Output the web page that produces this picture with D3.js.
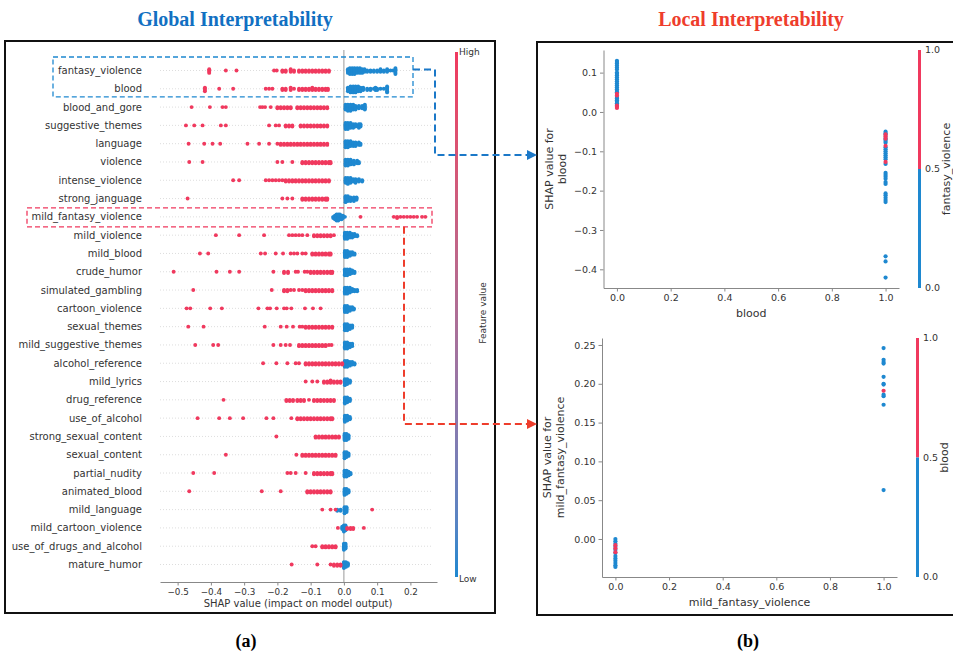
<!DOCTYPE html>
<html>
<head>
<meta charset="utf-8">
<script src="https://cdn.jsdelivr.net/npm/d3@7"></script>
<style>
  body { margin: 0; background: #fff; }
  text { font-family: "DejaVu Sans", sans-serif; }
  .title { font-family: "Liberation Serif", serif; font-weight: bold; }
</style>
</head>
<body>
<script>
// ---------- data ----------
var features = ['fantasy_violence', 'blood', 'blood_and_gore', 'suggestive_themes', 'language', 'violence',
  'intense_violence', 'strong_janguage', 'mild_fantasy_violence', 'mild_violence', 'mild_blood', 'crude_humor',
  'simulated_gambling', 'cartoon_violence', 'sexual_themes', 'mild_suggestive_themes', 'alcohol_reference',
  'mild_lyrics', 'drug_reference', 'use_of_alcohol', 'strong_sexual_content', 'sexual_content', 'partial_nudity',
  'animated_blood', 'mild_language', 'mild_cartoon_violence', 'use_of_drugs_and_alcohol', 'mature_humor'];

// [shap value, number of stacked points] for high feature value (red)
var highPts = [
  [[-0.405,4],[-0.355,1],[-0.323,1],[-0.21,1],[-0.202,1],[-0.185,2],[-0.175,2],[-0.16,3],[-0.15,2],[-0.135,2],[-0.125,2],[-0.115,2],[-0.105,2],[-0.095,2],[-0.085,2],[-0.075,2],[-0.065,2],[-0.055,2],[-0.045,2]],
  [[-0.418,4],[-0.375,1],[-0.333,1],[-0.235,1],[-0.225,1],[-0.215,1],[-0.185,2],[-0.175,2],[-0.16,3],[-0.15,1],[-0.135,2],[-0.125,2],[-0.115,2],[-0.105,2],[-0.095,3],[-0.085,2],[-0.075,2],[-0.065,2],[-0.055,2],[-0.048,2]],
  [[-0.458,1],[-0.403,1],[-0.365,1],[-0.355,1],[-0.252,1],[-0.245,1],[-0.237,1],[-0.22,1],[-0.2,2],[-0.19,2],[-0.18,2],[-0.17,2],[-0.16,2],[-0.14,2],[-0.13,2],[-0.12,2],[-0.11,2],[-0.1,2],[-0.09,2],[-0.08,2],[-0.07,2],[-0.06,2],[-0.05,2]],
  [[-0.475,1],[-0.45,1],[-0.425,1],[-0.37,1],[-0.355,1],[-0.225,1],[-0.205,1],[-0.195,1],[-0.175,2],[-0.165,2],[-0.155,2],[-0.13,2],[-0.12,2],[-0.11,2],[-0.1,2],[-0.09,2],[-0.08,2],[-0.07,2],[-0.06,2],[-0.05,2]],
  [[-0.467,1],[-0.42,1],[-0.395,1],[-0.372,1],[-0.29,1],[-0.255,1],[-0.225,1],[-0.2,1],[-0.19,2],[-0.18,2],[-0.17,2],[-0.16,2],[-0.15,2],[-0.14,2],[-0.13,2],[-0.12,2],[-0.11,2],[-0.1,2],[-0.09,2],[-0.08,2],[-0.07,2],[-0.06,2],[-0.05,2]],
  [[-0.465,1],[-0.425,1],[-0.2,1],[-0.185,1],[-0.155,1],[-0.125,2],[-0.115,2],[-0.105,2],[-0.095,2],[-0.085,2],[-0.075,2],[-0.065,2],[-0.055,2],[-0.045,2],[-0.04,2]],
  [[-0.333,1],[-0.315,1],[-0.235,1],[-0.225,1],[-0.215,1],[-0.205,1],[-0.195,1],[-0.185,1],[-0.175,2],[-0.165,2],[-0.155,2],[-0.145,2],[-0.135,2],[-0.125,2],[-0.115,2],[-0.105,2],[-0.095,2],[-0.085,2],[-0.075,2],[-0.065,2],[-0.055,2],[-0.045,2]],
  [[-0.47,1],[-0.185,1],[-0.17,1],[-0.155,1],[-0.125,2],[-0.115,2],[-0.105,2],[-0.095,2],[-0.085,2],[-0.075,2],[-0.065,2],[-0.055,2],[-0.05,2]],
  [[0.05,1],[0.15,1],[0.16,2],[0.17,1],[0.18,1],[0.19,1],[0.2,1],[0.21,1],[0.22,1],[0.235,1],[0.245,1]],
  [[-0.385,1],[-0.315,1],[-0.24,1],[-0.165,1],[-0.155,1],[-0.145,1],[-0.135,1],[-0.125,1],[-0.11,1],[-0.09,2],[-0.08,2],[-0.07,2],[-0.06,2],[-0.05,2],[-0.04,2],[-0.03,1]],
  [[-0.433,1],[-0.408,1],[-0.25,1],[-0.237,1],[-0.205,1],[-0.183,1],[-0.16,1],[-0.15,1],[-0.14,1],[-0.125,1],[-0.115,1],[-0.095,2],[-0.085,2],[-0.075,2],[-0.065,2],[-0.055,2],[-0.045,2],[-0.04,2]],
  [[-0.512,1],[-0.383,1],[-0.343,1],[-0.315,1],[-0.212,1],[-0.18,2],[-0.168,2],[-0.145,1],[-0.138,1],[-0.118,1],[-0.11,1],[-0.1,2],[-0.09,2],[-0.08,2],[-0.07,2],[-0.06,2],[-0.05,2],[-0.04,2],[-0.035,2]],
  [[-0.453,1],[-0.217,1],[-0.18,2],[-0.17,2],[-0.16,1],[-0.15,1],[-0.135,1],[-0.125,1],[-0.115,2],[-0.105,2],[-0.095,2],[-0.085,2],[-0.075,2],[-0.065,2],[-0.055,2],[-0.045,2],[-0.035,2]],
  [[-0.473,1],[-0.462,1],[-0.402,1],[-0.367,1],[-0.257,1],[-0.23,1],[-0.222,1],[-0.202,1],[-0.18,1],[-0.172,1],[-0.158,1],[-0.117,1],[-0.093,1],[-0.07,1]],
  [[-0.468,1],[-0.422,1],[-0.238,1],[-0.19,1],[-0.172,1],[-0.153,1],[-0.133,1],[-0.125,1],[-0.115,2],[-0.105,2],[-0.095,2],[-0.085,2],[-0.075,2],[-0.065,2],[-0.055,2],[-0.045,2],[-0.035,2]],
  [[-0.447,1],[-0.393,1],[-0.378,1],[-0.212,1],[-0.19,1],[-0.175,1],[-0.162,1],[-0.135,2],[-0.125,2],[-0.115,2],[-0.105,2],[-0.095,2],[-0.085,2],[-0.075,2],[-0.065,2],[-0.055,2],[-0.045,1],[-0.037,1]],
  [[-0.243,1],[-0.203,1],[-0.17,1],[-0.145,1],[-0.135,1],[-0.115,2],[-0.105,2],[-0.095,2],[-0.085,2],[-0.075,2],[-0.065,2],[-0.055,2],[-0.045,2],[-0.035,2],[-0.025,2],[-0.015,2],[-0.005,2]],
  [[-0.115,1],[-0.095,1],[-0.08,1],[-0.06,2],[-0.05,2],[-0.04,3],[-0.03,2],[-0.02,2],[-0.01,2]],
  [[-0.362,1],[-0.173,2],[-0.163,2],[-0.153,2],[-0.14,2],[-0.13,2],[-0.12,2],[-0.105,1],[-0.09,2],[-0.08,2],[-0.07,2],[-0.06,2],[-0.05,2],[-0.04,2],[-0.03,2]],
  [[-0.44,1],[-0.375,1],[-0.343,1],[-0.303,1],[-0.233,1],[-0.212,1],[-0.158,1],[-0.14,2],[-0.13,2],[-0.12,2],[-0.11,2],[-0.1,2],[-0.09,2],[-0.08,2],[-0.07,2],[-0.06,2],[-0.05,2],[-0.04,2],[-0.035,2]],
  [[-0.203,1],[-0.085,2],[-0.075,2],[-0.065,2],[-0.055,2],[-0.045,2],[-0.035,2],[-0.025,2],[-0.015,2]],
  [[-0.355,1],[-0.143,1],[-0.125,2],[-0.115,2],[-0.105,2],[-0.095,2],[-0.085,2],[-0.075,2],[-0.065,2],[-0.055,2],[-0.045,2],[-0.035,2],[-0.025,2]],
  [[-0.453,1],[-0.39,1],[-0.17,1],[-0.16,1],[-0.145,1],[-0.115,1],[-0.09,2],[-0.08,2],[-0.07,2],[-0.06,2],[-0.05,2],[-0.04,2],[-0.035,2]],
  [[-0.465,1],[-0.247,1],[-0.19,1],[-0.11,2],[-0.1,2],[-0.09,2],[-0.08,2],[-0.07,2],[-0.06,2],[-0.05,2],[-0.04,2]],
  [[-0.065,1],[-0.04,1],[-0.025,1],[0.085,1]],
  [[-0.018,1],[0.01,2],[0.02,2],[0.028,2],[0.06,1]],
  [[-0.095,1],[-0.085,1],[-0.065,2],[-0.055,2],[-0.045,2],[-0.035,2],[-0.025,2]],
  [[-0.157,1],[-0.08,1],[-0.04,1],[-0.03,2],[-0.02,2],[-0.01,2]]
];

// low feature value (blue)
var lowPts = [
  [[0.012,4],[0.018,6],[0.025,6],[0.032,6],[0.04,5],[0.048,5],[0.055,4],[0.062,3],[0.07,2],[0.08,2],[0.09,2],[0.1,2],[0.11,3],[0.12,2],[0.13,3],[0.14,1],[0.148,1],[0.155,6]],
  [[0.012,4],[0.02,6],[0.028,6],[0.035,6],[0.043,5],[0.05,4],[0.058,3],[0.07,2],[0.08,2],[0.09,1],[0.095,3],[0.1,2],[0.11,1],[0.12,1],[0.13,6]],
  [[0.005,5],[0.012,6],[0.02,6],[0.028,5],[0.035,4],[0.045,3],[0.055,3],[0.063,5]],
  [[0.005,6],[0.012,6],[0.02,5],[0.028,4],[0.035,3],[0.045,4],[0.05,3]],
  [[0.005,6],[0.012,6],[0.02,5],[0.028,4],[0.035,4],[0.045,3],[0.05,2]],
  [[0.005,6],[0.012,6],[0.02,5],[0.03,4],[0.04,3],[0.045,2]],
  [[0.005,5],[0.012,6],[0.02,5],[0.028,3],[0.035,4],[0.045,3],[0.055,2]],
  [[0.005,6],[0.012,5],[0.02,4],[0.03,4],[0.038,3]],
  [[-0.032,2],[-0.027,4],[-0.022,6],[-0.017,6],[-0.012,5],[-0.007,4],[-0.003,3],[0.003,1]],
  [[0.003,6],[0.01,6],[0.018,5],[0.025,4],[0.032,3],[0.04,2]],
  [[0.003,6],[0.01,6],[0.018,4],[0.025,3],[0.032,2]],
  [[0.003,6],[0.01,6],[0.018,5],[0.025,3],[0.032,2]],
  [[0.003,6],[0.01,6],[0.018,5],[0.025,3],[0.032,2],[0.04,2]],
  [[0.003,6],[0.01,6],[0.018,4],[0.025,3],[0.03,2]],
  [[0.003,6],[0.01,6],[0.018,4],[0.025,3]],
  [[0.003,6],[0.01,6],[0.018,4],[0.025,3]],
  [[0.003,6],[0.01,6],[0.018,4],[0.025,3],[0.032,2]],
  [[0.003,6],[0.01,5],[0.018,3]],
  [[0.003,6],[0.01,5],[0.018,3]],
  [[0.003,6],[0.01,5],[0.018,3]],
  [[0.002,6],[0.008,6],[0.014,4]],
  [[0.002,6],[0.008,5],[0.014,3]],
  [[0.002,6],[0.008,6],[0.014,4],[0.02,2]],
  [[0.002,6],[0.008,5],[0.014,3]],
  [[-0.02,2],[-0.01,2],[0.002,6],[0.008,5]],
  [[-0.005,3],[0.0,6],[0.005,5]],
  [[0.0,6],[0.005,5]],
  [[0.0,6],[0.006,5],[0.012,3]]
];

var summaryTicks = [-0.5, -0.4, -0.3, -0.2, -0.1, 0.0, 0.1, 0.2];

// dependence plot: blood, coloured by fantasy_violence  [blood, shap, fantasy_violence]
var bloodDep = [
  [0,0.13,0],[0,0.127,0],[0,0.123,0],[0,0.118,0],[0,0.113,0],[0,0.108,0],[0,0.1,0],[0,0.097,0],[0,0.093,0],
  [0,0.088,0],[0,0.083,0],[0,0.078,0],[0,0.073,0],[0,0.068,0],[0,0.063,0],[0,0.058,0],[0,0.053,0],[0,0.05,0],
  [0,0.038,0],[0,0.034,0],[0,0.03,0],[0,0.026,0],[0,0.022,0],[0,0.018,0],
  [0,0.046,1],[0,0.042,1],[0,0.016,1],[0,0.013,1],[0,0.01,1],
  [1,-0.05,0],[1,-0.054,0],[1,-0.058,0],[1,-0.066,0],[1,-0.07,0],[1,-0.074,0],[1,-0.078,0],[1,-0.09,0],
  [1,-0.095,0],[1,-0.1,0],[1,-0.105,0],[1,-0.11,0],[1,-0.115,0],[1,-0.12,0],[1,-0.132,0],[1,-0.155,0],
  [1,-0.16,0],[1,-0.165,0],[1,-0.17,0],[1,-0.178,0],[1,-0.183,0],[1,-0.207,0],[1,-0.212,0],[1,-0.218,0],
  [1,-0.224,0],[1,-0.229,0],[1,-0.367,0],[1,-0.38,0],[1,-0.421,0],
  [1,-0.057,1],[1,-0.062,1],[1,-0.068,1],[1,-0.086,1],[1,-0.127,1]
];
var bloodYTicks = [-0.4, -0.3, -0.2, -0.1, 0.0, 0.1];

// dependence plot: mild_fantasy_violence, coloured by blood  [mfv, shap, blood]
var mfvDep = [
  [0,0.0,0],[0,-0.003,0],[0,-0.006,0],[0,-0.01,0],[0,-0.014,0],[0,-0.018,0],[0,-0.022,0],[0,-0.025,0],
  [0,-0.028,0],[0,-0.031,0],[0,-0.034,0],[0,-0.036,0],
  [0,-0.008,1],[0,-0.012,1],[0,-0.017,1],
  [1,0.246,0],[1,0.231,0],[1,0.228,0],[1,0.226,0],[1,0.209,0],[1,0.2,0],[1,0.199,0],[1,0.186,0],
  [1,0.184,0],[1,0.173,0],[1,0.063,0],
  [1,0.191,1]
];
var mfvYTicks = [0.0, 0.05, 0.10, 0.15, 0.20, 0.25];
var depXTicks = [0.0, 0.2, 0.4, 0.6, 0.8, 1.0];
var cbTicks = [0.0, 0.5, 1.0];

// ---------- drawing ----------
var red = '#f0395e', blue = '#1e88d0';
var width = 953, height = 654;

var svg = d3.select('body').append('svg')
  .attr('width', width)
  .attr('height', height);

// titles
svg.append('text').attr('class', 'title')
  .attr('x', 235).attr('y', 26).attr('text-anchor', 'middle')
  .style('font-size', '20px').attr('fill', '#1170c2')
  .text('Global Interpretability');
svg.append('text').attr('class', 'title')
  .attr('x', 751).attr('y', 26).attr('text-anchor', 'middle')
  .style('font-size', '20px').attr('fill', '#ee3d2c')
  .text('Local Interpretability');
svg.append('text').attr('class', 'title')
  .attr('x', 246).attr('y', 647).attr('text-anchor', 'middle')
  .style('font-size', '18px').text('(a)');
svg.append('text').attr('class', 'title')
  .attr('x', 748).attr('y', 647).attr('text-anchor', 'middle')
  .style('font-size', '18px').text('(b)');

// frames
svg.append('rect').attr('x', 5).attr('y', 41).attr('width', 490).attr('height', 572)
  .attr('fill', 'none').attr('stroke', '#111').attr('stroke-width', 2);
svg.append('rect').attr('x', 537).attr('y', 42).attr('width', 420).attr('height', 573)
  .attr('fill', 'none').attr('stroke', '#111').attr('stroke-width', 2);

// ---- summary plot ----
var xScale = d3.scaleLinear().domain([-0.553, 0.28]).range([160, 437]);
var yScale = d3.scalePoint().domain(features).range([70.5, 564.5]);
var axisY = 582;

var g = svg.append('g');

// dotted row lines
g.selectAll('.grid').data(features).enter().append('line')
  .attr('x1', xScale.range()[0]).attr('x2', xScale.range()[1] - 4)
  .attr('y1', d => yScale(d)).attr('y2', d => yScale(d))
  .attr('stroke', '#d4d4d4').attr('stroke-width', 0.8).attr('stroke-dasharray', '1,2');

// zero line
g.append('line')
  .attr('x1', xScale(0)).attr('x2', xScale(0))
  .attr('y1', 50).attr('y2', axisY)
  .attr('stroke', '#999').attr('stroke-width', 1);

function stackOffset(k) {
  return k === 0 ? 0 : (k % 2 ? Math.ceil(k / 2) : -k / 2);
}

function swarm(list, color) {
  list.forEach(function(rows, i) {
    var pts = [];
    rows.forEach(function(p) {
      for (var k = 0; k < p[1]; k++) pts.push({ v: p[0], off: stackOffset(k) });
    });
    g.selectAll(null).data(pts).enter().append('circle')
      .attr('cx', d => xScale(d.v))
      .attr('cy', d => yScale(features[i]) + d.off * 1.2)
      .attr('r', 1.95)
      .attr('fill', color);
  });
}
swarm(lowPts, blue);
swarm(highPts, red);

// feature labels
g.selectAll('.flab').data(features).enter().append('text')
  .attr('x', 142).attr('y', d => yScale(d)).attr('dy', '0.35em')
  .attr('text-anchor', 'end').style('font-size', '10px').attr('fill', '#333')
  .text(d => d);

// x axis
var ax = g.append('g')
  .attr('transform', 'translate(0,' + axisY + ')')
  .call(d3.axisBottom(xScale).tickValues(summaryTicks).tickFormat(d3.format('.1f'))
    .tickSize(3.5).tickSizeOuter(0));
ax.select('.domain').attr('stroke', '#888');
ax.selectAll('.tick line').attr('stroke', '#888');
ax.selectAll('.tick text').attr('fill', '#333').style('font-size', '8.8px')
  .style('font-family', '"DejaVu Sans", sans-serif');

g.append('text').attr('x', 298).attr('y', 607).attr('text-anchor', 'middle')
  .style('font-size', '10px').attr('fill', '#333')
  .text('SHAP value (impact on model output)');

// feature value colour bar
var grad = svg.append('defs').append('linearGradient')
  .attr('id', 'fv').attr('x1', 0).attr('y1', 0).attr('x2', 0).attr('y2', 1);
var mix = d3.interpolateLab(red, blue);
d3.range(0, 1.01, 0.1).forEach(function(t) {
  grad.append('stop').attr('offset', t).attr('stop-color', mix(t));
});
svg.append('rect').attr('x', 455).attr('y', 52).attr('width', 3).attr('height', 525)
  .attr('fill', 'url(#fv)');
svg.append('text').attr('x', 459).attr('y', 55).style('font-size', '9px').attr('fill', '#333').text('High');
svg.append('text').attr('x', 459).attr('y', 582).style('font-size', '9px').attr('fill', '#333').text('Low');
svg.append('text').attr('transform', 'translate(486,313) rotate(-90)')
  .attr('text-anchor', 'middle').style('font-size', '9px').attr('fill', '#333')
  .text('Feature value');

// ---- dependence plots ----
function depPlot(cfg) {
  var x = d3.scaleLinear().domain([-0.05, 1.05]).range(cfg.xr);
  var y = d3.scaleLinear().domain(cfg.yd).range(cfg.yr);
  var p = svg.append('g');

  p.selectAll(null).data(cfg.data).enter().append('circle')
    .attr('cx', d => x(d[0])).attr('cy', d => y(d[1])).attr('r', 2.1)
    .attr('fill', d => d[2] > 0.5 ? red : blue);

  var xa = p.append('g').attr('transform', 'translate(0,' + cfg.yr[0] + ')')
    .call(d3.axisBottom(x).tickValues(depXTicks).tickFormat(d3.format('.1f')).tickSize(3.5).tickSizeOuter(0));
  var ya = p.append('g').attr('transform', 'translate(' + cfg.xr[0] + ',0)')
    .call(d3.axisLeft(y).tickValues(cfg.yt).tickFormat(d3.format(cfg.fmt)).tickSize(3.5).tickSizeOuter(0));
  [xa, ya].forEach(function(a) {
    a.select('.domain').attr('stroke', '#888');
    a.selectAll('.tick line').attr('stroke', '#888');
    a.selectAll('.tick text').attr('fill', '#333').style('font-size', '9.5px')
      .style('font-family', '"DejaVu Sans", sans-serif');
  });

  var mx = (cfg.xr[0] + cfg.xr[1]) / 2, my = (cfg.yr[0] + cfg.yr[1]) / 2;
  p.append('text').attr('x', mx).attr('y', cfg.yr[0] + 29).attr('text-anchor', 'middle')
    .style('font-size', '11px').attr('fill', '#333').text(cfg.xlab);
  var yl = p.append('text').attr('transform', 'translate(' + (cfg.xr[0] - 51) + ',' + my + ') rotate(-90)')
    .attr('text-anchor', 'middle').style('font-size', '11px').attr('fill', '#333');
  yl.append('tspan').attr('x', 0).attr('dy', 0).text('SHAP value for');
  yl.append('tspan').attr('x', 0).attr('dy', '1.2em').text(cfg.xlab);

  // colour bar of interaction feature
  var cb = d3.scaleLinear().domain([0, 1]).range(cfg.yr);
  var cbx = cfg.xr[1] + 19;
  p.append('rect').attr('x', cbx).attr('y', cb(1)).attr('width', 3).attr('height', cb(0.5) - cb(1)).attr('fill', red);
  p.append('rect').attr('x', cbx).attr('y', cb(0.5)).attr('width', 3).attr('height', cb(0) - cb(0.5)).attr('fill', blue);
  p.selectAll(null).data(cbTicks).enter().append('text')
    .attr('x', cbx + 7).attr('y', d => cb(d)).attr('dy', '0.35em')
    .style('font-size', '9.5px').attr('fill', '#333').text(d => d3.format('.1f')(d));
  p.append('text').attr('transform', 'translate(' + (cbx + 32) + ',' + my + ') rotate(-90)')
    .attr('text-anchor', 'middle').style('font-size', '11px').attr('fill', '#333').text(cfg.clab);
}

depPlot({ data: bloodDep, xr: [603.5, 899], yd: [-0.4475, 0.1575], yr: [288, 50],
  yt: bloodYTicks, fmt: '.1f', xlab: 'blood', clab: 'fantasy_violence' });
depPlot({ data: mfvDep, xr: [602, 897], yd: [-0.049, 0.259], yr: [577, 338],
  yt: mfvYTicks, fmt: '.2f', xlab: 'mild_fantasy_violence', clab: 'blood' });

// ---- highlight boxes and connectors ----
var ann = svg.append('g').attr('fill', 'none');
var bTop = yScale(features[0]) - 13.5, bBot = yScale(features[1]) + 8;
ann.append('rect').attr('x', 53).attr('y', bTop).attr('width', 360).attr('height', bBot - bTop)
  .attr('stroke', blue).attr('stroke-width', 1.3).attr('stroke-dasharray', '5,3');
var rTop = yScale(features[8]) - 9, rBot = yScale(features[8]) + 10;
ann.append('rect').attr('x', 27).attr('y', rTop).attr('width', 405).attr('height', rBot - rTop)
  .attr('stroke', red).attr('stroke-width', 1.3).attr('stroke-dasharray', '5,3');

ann.append('path')
  .attr('d', 'M413,' + (yScale(features[0]) - 1) + 'H435V155H528')
  .attr('stroke', '#1b78c8').attr('stroke-width', 2).attr('stroke-dasharray', '7,4');
ann.append('path').attr('d', 'M527,150L537,155L527,160Z').attr('fill', '#1b78c8');

ann.append('path')
  .attr('d', 'M404,' + rBot + 'V424H528')
  .attr('stroke', '#ee3d2c').attr('stroke-width', 2).attr('stroke-dasharray', '7,4');
ann.append('path').attr('d', 'M527,419L537,424L527,429Z').attr('fill', '#ee3d2c');
</script>
</body>
</html>
